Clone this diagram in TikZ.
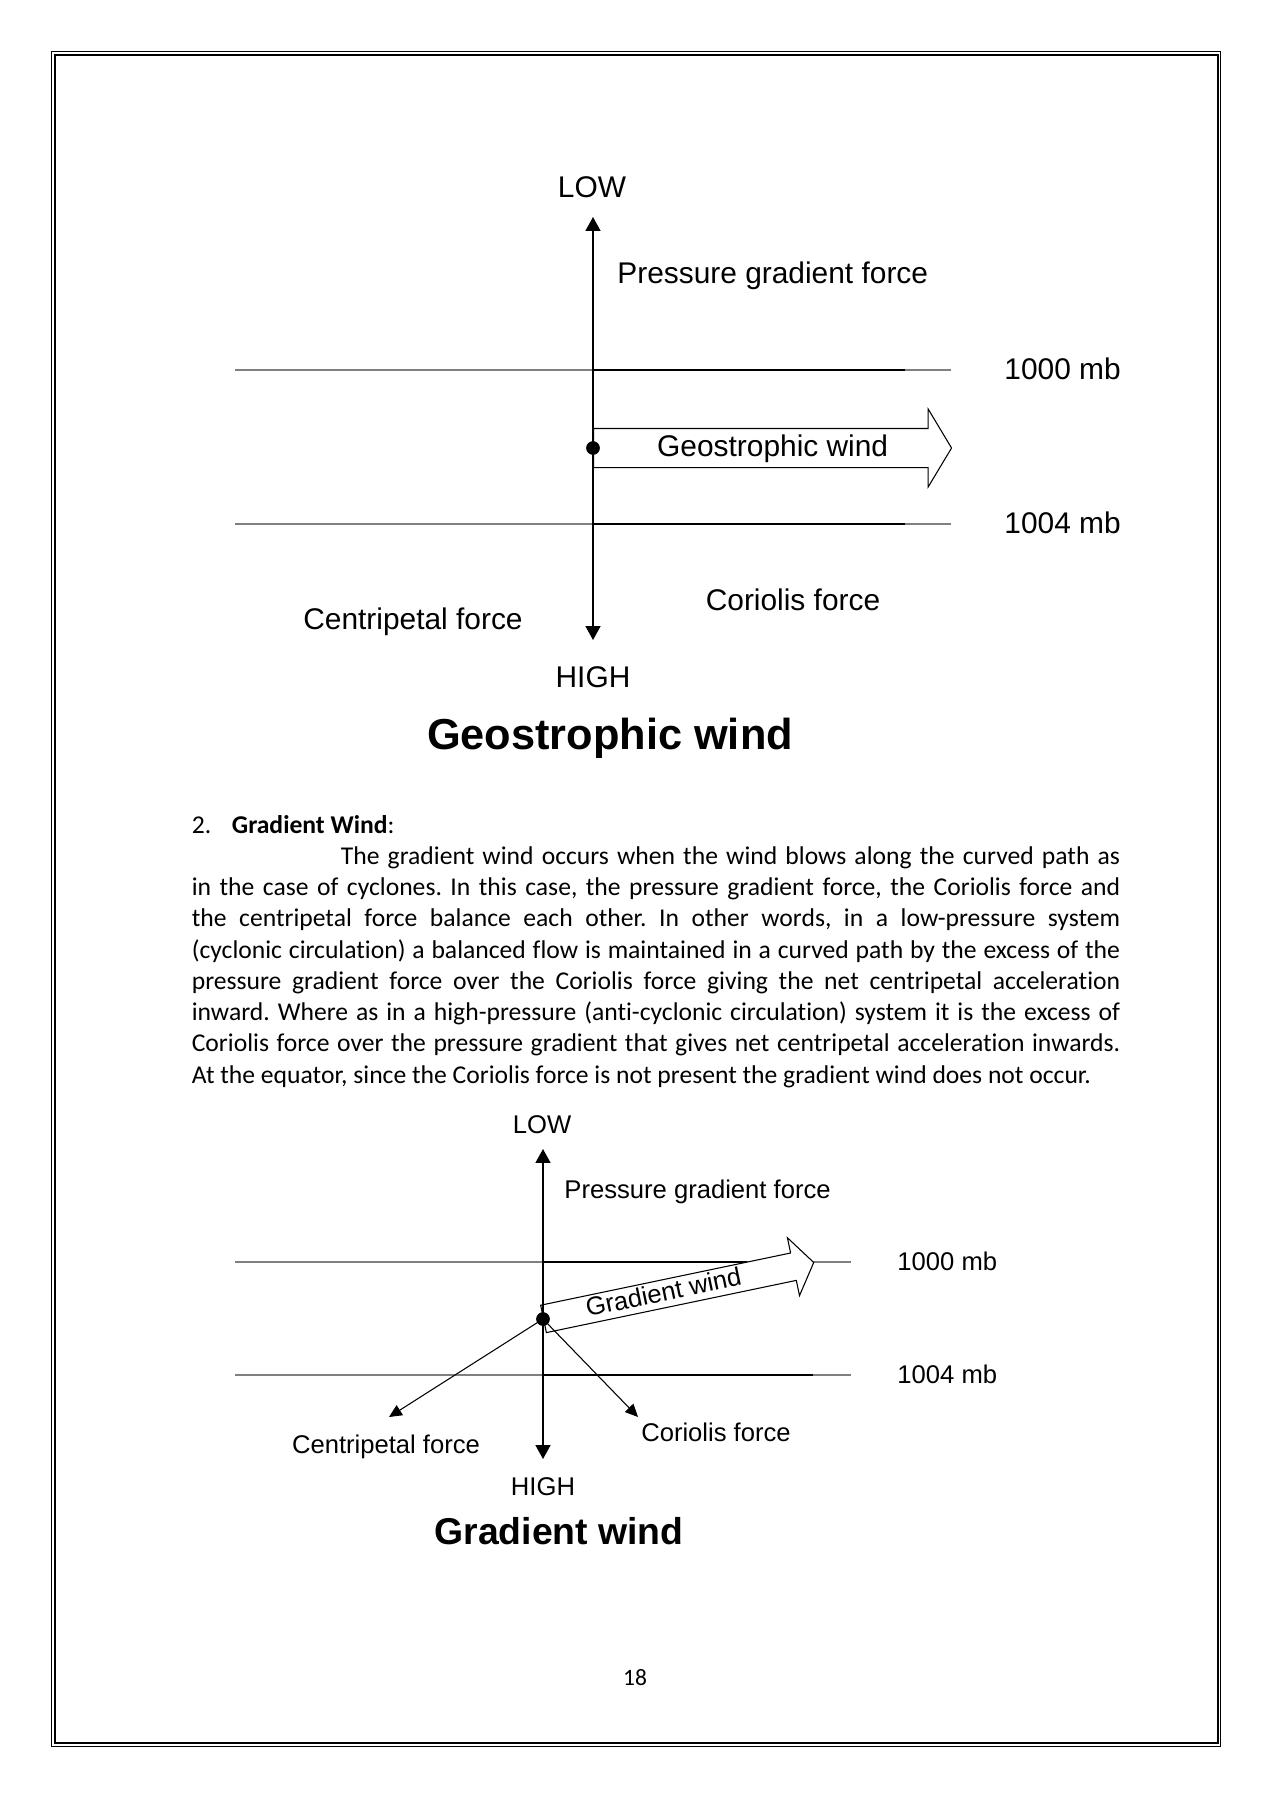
\documentclass[tikz,border=0pt]{standalone}
\usepackage{fontspec}
\setmainfont{Carlito}[Ligatures=NoCommon]
\newfontfamily\arialfont{Liberation Sans}
\usetikzlibrary{positioning, arrows.meta, shapes.arrows}

\begin{document}
\begin{tikzpicture}[x=0.4684pt, y=-0.4684pt,
    lbl/.style={font=\arialfont\fontsize{14}{17}\selectfont, inner sep=0pt},
    slbl/.style={font=\arialfont\fontsize{12}{14}\selectfont, inner sep=0pt},
    ttl/.style={font=\arialfont\bfseries\fontsize{20.3}{24}\selectfont, inner sep=0pt},
    isobar/.style={black!50, line width=0.5pt},
    isodark/.style={black, line width=0.9pt},
    axis/.style={line width=0.6pt, {Triangle[length=6.5pt, width=7pt]}-{Triangle[length=6.5pt, width=7pt]}},
    force/.style={line width=0.5pt, -{Triangle[length=6pt, width=5.5pt]}},
    fdot/.style={circle, fill=black, draw=black, inner sep=0pt, minimum size=6pt},
    wind/.style={single arrow, draw, fill=white, line width=0.5pt, inner sep=0pt, anchor=tail}]
  \useasboundingbox (0,0) rectangle (1271,1797);
  % page frame
  \draw[line width=0.5pt] (51.7,51.7) rectangle (1220.8,1746.2);
  \draw[line width=1.1pt] (55.3,55.3) rectangle (1217.8,1743);

  % geostrophic wind
  \coordinate (o1) at (593,448);
  \coordinate (lotip1) at (593,217);
  \coordinate (hitip1) at (593,640);
  \draw[isobar] (235,370) -- (951,370);
  \draw[black, line width=0.6pt] (593,370) -- (905,370);
  \draw[isobar] (235,524) -- (951,524);
  \draw[isodark] (593,524) -- (905,524);
  \node[wind, minimum height=167.7pt, single arrow head extend=9.1pt, single arrow tip angle=118,
    font=\arialfont\fontsize{14}{17}\selectfont, text height=13pt, text depth=4.8pt] (geo) at (o1)
    {\hspace*{5.6pt}Geostrophic wind};
  \draw[axis] (hitip1) -- (lotip1);
  \node[fdot] (dot1) at (o1) {};
  \node[lbl] (low1) at (592,187) {LOW};
  \node[lbl, anchor=west] (pgf1) at (617,276) {Pressure gradient force};
  \node[lbl, anchor=west] (mb1a) at (1004,369) {1000 mb};
  \node[lbl, anchor=west] (mb1b) at (1004,523) {1004 mb};
  \node[lbl] (cor1) at (793,600) {Coriolis force};
  \node[lbl] (cen1) at (413,622) {Centripetal force};
  \node[lbl] (high1) at (593,677) {HIGH};
  \node[ttl] (title1) at (610,738) {Geostrophic wind};

  % text
  \node[anchor=base west, inner sep=0pt, font=\fontsize{12}{14.65}\selectfont] (head) at (191.4,833)
    {\makebox[18.8pt][l]{2.}\textbf{Gradient Wind}:};
  \node[anchor=north west, inner sep=0pt, text width=434.8pt, align=justify,
    font=\fontsize{12}{14.65}\selectfont] (para) at (191.4,846)
    {\frenchspacing\hyphenpenalty=10000\exhyphenpenalty=10000\tolerance=9999
    \hspace*{69.8pt}The gradient wind occurs when the wind blows along the curved path as\linebreak
    in the case of cyclones. In this case, the pressure gradient force, the Coriolis force and\linebreak
    the centripetal force balance each other. In other words, in a low-pressure system\linebreak
    (cyclonic circulation) a balanced flow is maintained in a curved path by the excess of the\linebreak
    pressure gradient force over the Coriolis force giving the net centripetal acceleration\linebreak
    inward. Where as in a high-pressure (anti-cyclonic circulation) system it is the excess of\linebreak
    Coriolis force over the pressure gradient that gives net centripetal acceleration inwards.\linebreak
    At the equator, since the Coriolis force is not present the gradient wind does not occur.};

  % gradient wind
  \coordinate (o2) at (543,1319);
  \coordinate (lotip2) at (543,1149);
  \coordinate (hitip2) at (543,1459);
  \coordinate (centtip) at (389,1417);
  \coordinate (cortip) at (638,1417);
  \draw[isobar] (235,1262) -- (851,1262);
  \draw[isodark] (543,1262) -- (747,1262);
  \draw[isobar] (235,1375) -- (851,1375);
  \draw[isodark] (543,1375) -- (813,1375);
  \node[wind, rotate=11.8, minimum height=129.3pt, single arrow head extend=7.3pt, single arrow tip angle=110,
    font=\arialfont\fontsize{12}{14}\selectfont, text height=9.6pt, text depth=3pt] (grad) at (o2)
    {Gradient wind\hspace*{9.6pt}};
  \draw[axis] (hitip2) -- (lotip2);
  \node[fdot] (dot2) at (o2) {};
  \draw[force] (dot2.center) -- (centtip);
  \draw[force] (dot2.center) -- (cortip);
  \node[slbl] (low2) at (542,1125) {LOW};
  \node[slbl, anchor=west] (pgf2) at (564,1192) {Pressure gradient force};
  \node[slbl, anchor=west] (mb2a) at (897,1261) {1000 mb};
  \node[slbl, anchor=west] (mb2b) at (897,1374) {1004 mb};
  \node[slbl] (cen2) at (386,1447) {Centripetal force};
  \node[slbl] (cor2) at (716,1432) {Coriolis force};
  \node[slbl] (high2) at (543,1487) {HIGH};
  \node[ttl, font=\arialfont\bfseries\fontsize{17.5}{21}\selectfont] (title2) at (559,1531) {Gradient wind};

  \node[inner sep=0pt, font=\fontsize{11}{13}\selectfont] (pageno) at (635,1678) {18};
\end{tikzpicture}
\end{document}
